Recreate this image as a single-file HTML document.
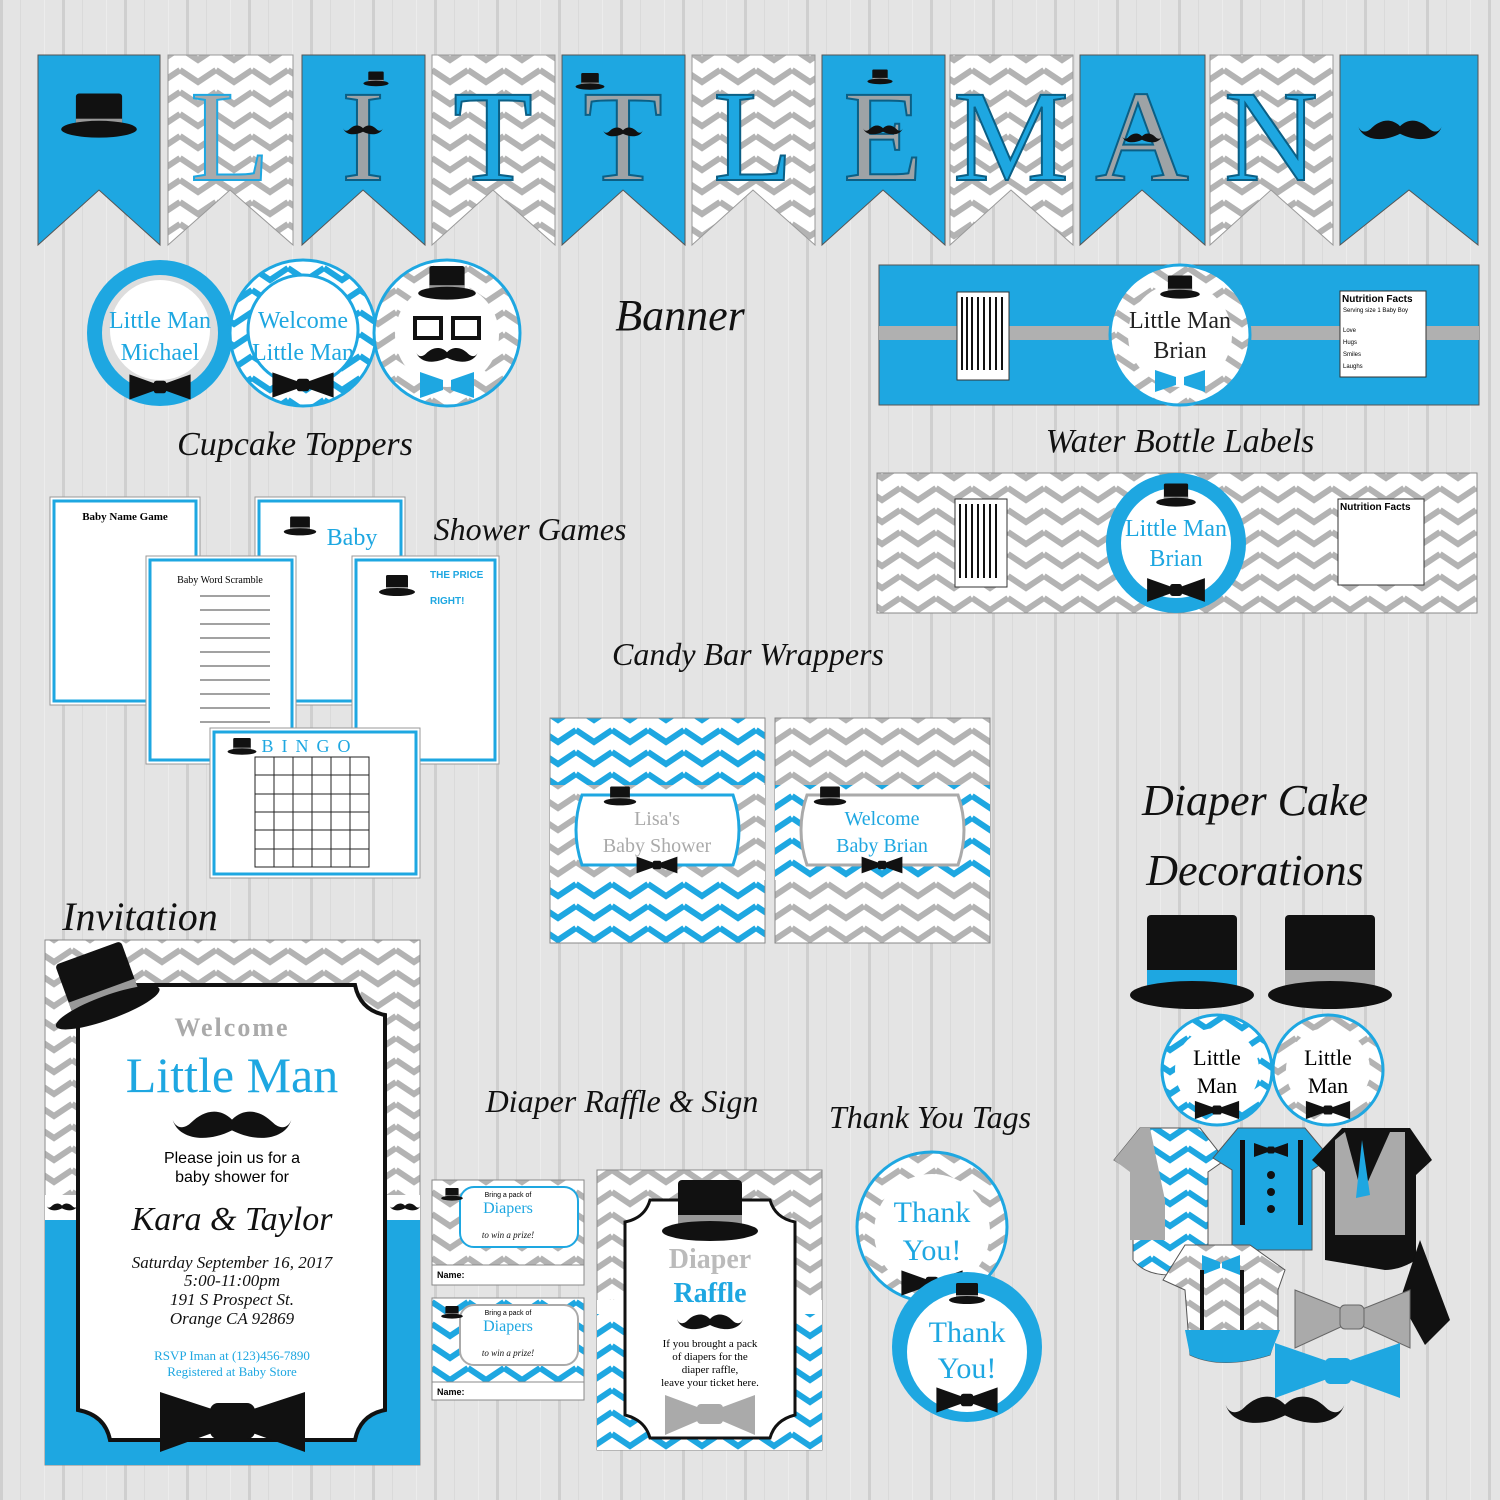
<!DOCTYPE html>
<html><head><meta charset="utf-8">
<style>
html,body{margin:0;padding:0;width:1500px;height:1500px;overflow:hidden;background:#e3e3e3}
svg{display:block}
.h{font-family:"Liberation Serif",serif;font-style:italic;fill:#111}
.s{font-family:"Liberation Serif",serif}
.a{font-family:"Liberation Sans",sans-serif}
</style></head><body>
<svg width="1500" height="1500" viewBox="0 0 1500 1500" xmlns="http://www.w3.org/2000/svg">
<defs>
<pattern id="wood" width="62" height="1500" patternUnits="userSpaceOnUse">
<rect width="62" height="1500" fill="#e4e4e4"/><rect x="0" width="3" height="1500" fill="#cfcfcf"/><rect x="20" width="1" height="1500" fill="#dadada"/><rect x="44" width="1" height="1500" fill="#ececec"/>
</pattern>
<pattern id="cg" width="36" height="22" patternUnits="userSpaceOnUse">
<rect width="36" height="22" fill="#fff"/><polyline points="0,4 18,16 36,4" fill="none" stroke="#b3b3b3" stroke-width="6"/>
</pattern>
<pattern id="cb" width="36" height="22" patternUnits="userSpaceOnUse">
<rect width="36" height="22" fill="#fff"/><polyline points="0,4 18,16 36,4" fill="none" stroke="#1ea7e1" stroke-width="6"/>
</pattern>
<g id="hat"><rect x="-22" y="-30" width="44" height="34" rx="3" fill="#111"/><rect x="-22" y="-6" width="44" height="8" fill="#999"/><ellipse cx="0" cy="4" rx="36" ry="8" fill="#111"/></g>
<g id="bow"><path d="M-34,-14 L-6,-4 L-6,4 L-34,14 Z M34,-14 L6,-4 L6,4 L34,14 Z" fill="#111"/><rect x="-7" y="-7" width="14" height="14" rx="3" fill="#111"/></g>
<g id="mus"><path d="M0,-4 C-10,-14 -22,-10 -30,-2 C-36,4 -42,2 -44,-4 C-40,10 -20,14 0,4 C20,14 40,10 44,-4 C42,2 36,4 30,-2 C22,-10 10,-14 0,-4 Z" fill="#111"/></g>
</defs>
<rect width="1500" height="1500" fill="url(#wood)"/>

<!-- Banner -->
<g>
<path d="M38,55 H160 V245 L99,190 L38,245 Z" fill="#1ea7e1" stroke="#555"/>
<path d="M168,55 H293 V245 L230,190 L168,245 Z" fill="url(#cg)" stroke="#999"/>
<path d="M302,55 H425 V245 L363,190 L302,245 Z" fill="#1ea7e1" stroke="#555"/>
<path d="M432,55 H555 V245 L493,190 L432,245 Z" fill="url(#cg)" stroke="#999"/>
<path d="M562,55 H685 V245 L623,190 L562,245 Z" fill="#1ea7e1" stroke="#555"/>
<path d="M692,55 H815 V245 L753,190 L692,245 Z" fill="url(#cg)" stroke="#999"/>
<path d="M822,55 H945 V245 L883,190 L822,245 Z" fill="#1ea7e1" stroke="#555"/>
<path d="M950,55 H1073 V245 L1011,190 L950,245 Z" fill="url(#cg)" stroke="#999"/>
<path d="M1080,55 H1205 V245 L1142,190 L1080,245 Z" fill="#1ea7e1" stroke="#555"/>
<path d="M1210,55 H1333 V245 L1271,190 L1210,245 Z" fill="url(#cg)" stroke="#999"/>
<path d="M1340,55 H1478 V245 L1409,190 L1340,245 Z" fill="#1ea7e1" stroke="#555"/>
<use href="#hat" transform="translate(99,125) scale(1.05)"/>
<use href="#mus" transform="translate(1400,130) scale(0.95)"/>
<g class="s" font-size="130" text-anchor="middle" stroke-width="2">
<text x="230" y="180" fill="#aaa" stroke="#1ea7e1">L</text>
<text x="363" y="180" fill="#9ea3a6" stroke="#0b5f85">I</text>
<text x="493" y="180" fill="#1ea7e1" stroke="#0b5f85">T</text>
<text x="623" y="180" fill="#9ea3a6" stroke="#0b5f85">T</text>
<text x="753" y="180" fill="#1ea7e1" stroke="#0b5f85">L</text>
<text x="883" y="180" fill="#9ea3a6" stroke="#0b5f85">E</text>
<text x="1011" y="180" fill="#1ea7e1" stroke="#0b5f85">M</text>
<text x="1142" y="180" fill="#9ea3a6" stroke="#0b5f85">A</text>
<text x="1271" y="180" fill="#1ea7e1" stroke="#0b5f85">N</text>
</g>
<use href="#mus" transform="translate(363,130) scale(0.45)"/>
<use href="#mus" transform="translate(623,132) scale(0.45)"/>
<use href="#mus" transform="translate(883,130) scale(0.45)"/>
<use href="#mus" transform="translate(1142,138) scale(0.45)"/>
<use href="#hat" transform="translate(376,82) scale(0.35)"/>
<use href="#hat" transform="translate(590,85) scale(0.4)"/>
<use href="#hat" transform="translate(880,80) scale(0.35)"/>
</g>

<!-- Cupcake toppers -->
<circle cx="160" cy="333" r="73" fill="#1ea7e1"/><circle cx="160" cy="333" r="58" fill="#ddd"/><circle cx="160" cy="330" r="50" fill="#fff"/>
<text x="160" y="328" class="s" font-size="24" fill="#1ea7e1" text-anchor="middle">Little Man</text>
<text x="160" y="360" class="s" font-size="24" fill="#1ea7e1" text-anchor="middle">Michael</text>
<use href="#bow" transform="translate(160,387) scale(0.9)"/>
<circle cx="303" cy="333" r="73" fill="url(#cb)" stroke="#1ea7e1" stroke-width="3"/><circle cx="303" cy="330" r="55" fill="#fff" stroke="#1ea7e1" stroke-width="3"/>
<text x="303" y="328" class="s" font-size="24" fill="#1ea7e1" text-anchor="middle">Welcome</text>
<text x="303" y="360" class="s" font-size="24" fill="#1ea7e1" text-anchor="middle">Little Man</text>
<use href="#bow" transform="translate(303,385) scale(0.9)"/>
<circle cx="447" cy="333" r="73" fill="url(#cg)" stroke="#1ea7e1" stroke-width="3"/><circle cx="447" cy="335" r="52" fill="#fff"/>
<use href="#hat" transform="translate(447,290) scale(0.8)"/>
<rect x="415" y="318" width="26" height="20" fill="none" stroke="#111" stroke-width="4"/><rect x="453" y="318" width="26" height="20" fill="none" stroke="#111" stroke-width="4"/>
<use href="#mus" transform="translate(447,355) scale(0.7)"/>
<path d="M420,372 L443,380 L443,390 L420,398 Z M474,372 L451,380 L451,390 L474,398 Z" fill="#1ea7e1"/>
<text x="295" y="455" class="h" font-size="34" text-anchor="middle">Cupcake Toppers</text>
<text x="680" y="330" class="h" font-size="44" text-anchor="middle">Banner</text>

<!-- Water bottle labels -->
<rect x="879" y="265" width="600" height="140" fill="#1ea7e1" stroke="#555"/>
<rect x="879" y="326" width="600" height="14" fill="#b0b0b0"/>
<rect x="957" y="292" width="52" height="88" fill="#fff" stroke="#333"/>
<g stroke="#111" stroke-width="2"><line x1="962" y1="297" x2="962" y2="370"/><line x1="967" y1="297" x2="967" y2="370"/><line x1="972" y1="297" x2="972" y2="370"/><line x1="978" y1="297" x2="978" y2="370"/><line x1="984" y1="297" x2="984" y2="370"/><line x1="990" y1="297" x2="990" y2="370"/><line x1="996" y1="297" x2="996" y2="370"/><line x1="1002" y1="297" x2="1002" y2="370"/></g>
<circle cx="1180" cy="335" r="70" fill="url(#cg)" stroke="#1ea7e1" stroke-width="3"/><circle cx="1180" cy="335" r="52" fill="#fff"/>
<use href="#hat" transform="translate(1180,292) scale(0.55)"/>
<text x="1180" y="328" class="s" font-size="24" fill="#222" text-anchor="middle">Little Man</text>
<text x="1180" y="358" class="s" font-size="24" fill="#222" text-anchor="middle">Brian</text>
<path d="M1155,370 L1176,377 L1176,385 L1155,392 Z M1205,370 L1184,377 L1184,385 L1205,392 Z" fill="#1ea7e1"/>
<rect x="1340" y="291" width="86" height="86" fill="#fff" stroke="#333"/>
<text x="1342" y="302" class="a" font-size="10" font-weight="bold">Nutrition Facts</text>
<g class="a" font-size="6"><text x="1343" y="312">Serving size   1 Baby Boy</text><text x="1343" y="332">Love</text><text x="1343" y="344">Hugs</text><text x="1343" y="356">Smiles</text><text x="1343" y="368">Laughs</text></g>

<text x="1180" y="452" class="h" font-size="34" text-anchor="middle">Water Bottle Labels</text>
<rect x="877" y="473" width="600" height="140" fill="url(#cg)" stroke="#888"/>
<rect x="955" y="499" width="52" height="88" fill="#fff" stroke="#333"/>
<g stroke="#111" stroke-width="2"><line x1="960" y1="504" x2="960" y2="578"/><line x1="966" y1="504" x2="966" y2="578"/><line x1="972" y1="504" x2="972" y2="578"/><line x1="978" y1="504" x2="978" y2="578"/><line x1="984" y1="504" x2="984" y2="578"/><line x1="990" y1="504" x2="990" y2="578"/><line x1="996" y1="504" x2="996" y2="578"/></g>
<circle cx="1176" cy="543" r="70" fill="#1ea7e1"/><circle cx="1176" cy="543" r="55" fill="#fff"/>
<use href="#hat" transform="translate(1176,500) scale(0.55)"/>
<text x="1176" y="536" class="s" font-size="24" fill="#1ea7e1" text-anchor="middle">Little Man</text>
<text x="1176" y="566" class="s" font-size="24" fill="#1ea7e1" text-anchor="middle">Brian</text>
<use href="#bow" transform="translate(1176,590) scale(0.85)"/>
<rect x="1338" y="499" width="86" height="86" fill="#fff" stroke="#333"/>
<text x="1340" y="510" class="a" font-size="10" font-weight="bold">Nutrition Facts</text>

<!-- Shower games -->
<text x="530" y="540" class="h" font-size="32" text-anchor="middle">Shower Games</text>
<rect x="50" y="497" width="150" height="208" fill="#fff" stroke="#999"/><rect x="54" y="501" width="142" height="200" fill="none" stroke="#1ea7e1" stroke-width="3"/>
<text x="125" y="520" class="s" font-size="11" text-anchor="middle" font-weight="bold">Baby Name Game</text>
<rect x="255" y="497" width="150" height="208" fill="#fff" stroke="#999"/><rect x="259" y="501" width="142" height="200" fill="none" stroke="#1ea7e1" stroke-width="3"/>
<use href="#hat" transform="translate(300,530) scale(0.45)"/>
<text x="352" y="545" class="s" font-size="24" fill="#1ea7e1" text-anchor="middle">Baby</text>
<rect x="146" y="556" width="150" height="208" fill="#fff" stroke="#999"/><rect x="150" y="560" width="142" height="200" fill="none" stroke="#1ea7e1" stroke-width="3"/>
<text x="220" y="583" class="s" font-size="10" text-anchor="middle">Baby Word Scramble</text>
<g stroke="#444" stroke-width="1">
<line x1="200" y1="596" x2="270" y2="596"/><line x1="200" y1="610" x2="270" y2="610"/><line x1="200" y1="624" x2="270" y2="624"/><line x1="200" y1="638" x2="270" y2="638"/><line x1="200" y1="652" x2="270" y2="652"/><line x1="200" y1="666" x2="270" y2="666"/><line x1="200" y1="680" x2="270" y2="680"/><line x1="200" y1="694" x2="270" y2="694"/><line x1="200" y1="708" x2="270" y2="708"/><line x1="200" y1="722" x2="270" y2="722"/></g>
<rect x="352" y="556" width="147" height="208" fill="#fff" stroke="#999"/><rect x="356" y="560" width="139" height="200" fill="none" stroke="#1ea7e1" stroke-width="3"/>
<use href="#hat" transform="translate(397,590) scale(0.5)"/>
<text x="430" y="578" class="a" font-size="10" fill="#1ea7e1" font-weight="bold">THE PRICE</text>
<text x="430" y="604" class="a" font-size="10" fill="#1ea7e1" font-weight="bold">RIGHT!</text>
<rect x="210" y="728" width="210" height="150" fill="#fff" stroke="#999"/><rect x="214" y="732" width="202" height="142" fill="none" stroke="#1ea7e1" stroke-width="3"/>
<text x="310" y="752" class="s" font-size="18" fill="#1ea7e1" letter-spacing="8" text-anchor="middle">BINGO</text>
<use href="#hat" transform="translate(242,750) scale(0.4)"/>
<g fill="none" stroke="#222"><rect x="255" y="757" width="114" height="110"/><path d="M274,757V867M293,757V867M312,757V867M331,757V867M350,757V867M255,775H369M255,794H369M255,812H369M255,830H369M255,849H369"/></g>

<!-- Candy bars -->
<text x="748" y="665" class="h" font-size="32" text-anchor="middle">Candy Bar Wrappers</text>
<rect x="550" y="718" width="215" height="225" fill="url(#cb)" stroke="#888"/>
<rect x="550" y="785" width="215" height="95" fill="url(#cg)"/>
<path d="M582,795 H733 Q745,830 733,865 H582 Q570,830 582,795 Z" fill="#fff" stroke="#1ea7e1" stroke-width="3"/>
<use href="#hat" transform="translate(620,800) scale(0.45)"/>
<text x="657" y="825" class="s" font-size="20" fill="#aaa" text-anchor="middle">Lisa's</text>
<text x="657" y="852" class="s" font-size="20" fill="#aaa" text-anchor="middle">Baby Shower</text>
<use href="#bow" transform="translate(657,865) scale(0.6)"/>
<rect x="775" y="718" width="215" height="225" fill="url(#cg)" stroke="#888"/>
<rect x="775" y="785" width="215" height="95" fill="url(#cb)"/>
<path d="M807,795 H958 Q970,830 958,865 H807 Q795,830 807,795 Z" fill="#fff" stroke="#aaa" stroke-width="3"/>
<use href="#hat" transform="translate(830,800) scale(0.45)"/>
<text x="882" y="825" class="s" font-size="20" fill="#1ea7e1" text-anchor="middle">Welcome</text>
<text x="882" y="852" class="s" font-size="20" fill="#1ea7e1" text-anchor="middle">Baby Brian</text>
<use href="#bow" transform="translate(882,865) scale(0.6)"/>

<!-- Invitation -->
<text x="140" y="930" class="h" font-size="40" text-anchor="middle">Invitation</text>
<rect x="45" y="940" width="375" height="525" fill="url(#cg)" stroke="#888"/>
<rect x="45" y="1220" width="375" height="245" fill="#1ea7e1"/>
<rect x="45" y="1195" width="375" height="25" fill="#fff"/>
<use href="#mus" transform="translate(62,1207) scale(0.35)"/><use href="#mus" transform="translate(405,1207) scale(0.35)"/>
<path d="M110,985 H355 Q360,1010 385,1015 V1410 Q360,1415 355,1440 H110 Q105,1415 78,1410 V1015 Q105,1010 110,985 Z" fill="#fff" stroke="#111" stroke-width="4"/>
<g transform="translate(105,1000) rotate(-20)"><rect x="-35" y="-50" width="70" height="60" rx="4" fill="#111"/><rect x="-35" y="-10" width="70" height="14" fill="#999"/><ellipse cx="0" cy="8" rx="55" ry="12" fill="#111"/></g>
<text x="232" y="1036" class="s" font-size="26" fill="#aaa" font-weight="bold" text-anchor="middle" letter-spacing="2">Welcome</text>
<text x="232" y="1092" class="s" font-size="50" fill="#1ea7e1" text-anchor="middle">Little Man</text>
<use href="#mus" transform="translate(232,1125) scale(1.35)"/>
<text x="232" y="1163" class="a" font-size="16" text-anchor="middle">Please join us for a</text>
<text x="232" y="1182" class="a" font-size="16" text-anchor="middle">baby shower for</text>
<text x="232" y="1230" class="h" font-size="34" fill="#1ea7e1" text-anchor="middle">Kara &amp; Taylor</text>
<g class="h" font-size="17" text-anchor="middle"><text x="232" y="1268">Saturday September 16, 2017</text><text x="232" y="1286">5:00-11:00pm</text><text x="232" y="1305">191 S Prospect St.</text><text x="232" y="1324">Orange CA 92869</text></g>
<text x="232" y="1360" class="s" font-size="13" fill="#1ea7e1" text-anchor="middle">RSVP Iman at (123)456-7890</text>
<text x="232" y="1376" class="s" font-size="13" fill="#1ea7e1" text-anchor="middle">Registered at Baby Store</text>
<path d="M160,1392 L215,1410 L215,1432 L160,1452 Z M305,1392 L250,1410 L250,1432 L305,1452 Z" fill="#111"/><rect x="210" y="1403" width="45" height="36" rx="8" fill="#111"/>

<!-- Diaper raffle -->
<text x="622" y="1112" class="h" font-size="32" text-anchor="middle">Diaper Raffle &amp; Sign</text>
<g>
<rect x="432" y="1180" width="152" height="105" fill="url(#cg)" stroke="#888"/><rect x="432" y="1265" width="152" height="20" fill="#fff" stroke="#888"/>
<rect x="460" y="1187" width="118" height="60" rx="14" fill="#fff" stroke="#1ea7e1" stroke-width="2"/>
<use href="#hat" transform="translate(452,1197) scale(0.3)"/>
<text x="508" y="1197" class="a" font-size="7" text-anchor="middle">Bring a pack of</text>
<text x="508" y="1213" class="s" font-size="16" fill="#1ea7e1" text-anchor="middle">Diapers</text>
<text x="508" y="1238" class="h" font-size="9" text-anchor="middle">to win a prize!</text>
<text x="437" y="1278" class="a" font-size="9" font-weight="bold">Name:</text>
<rect x="432" y="1298" width="152" height="102" fill="url(#cb)" stroke="#888"/><rect x="432" y="1382" width="152" height="18" fill="#fff" stroke="#888"/>
<rect x="460" y="1305" width="118" height="60" rx="14" fill="#fff" stroke="#aaa" stroke-width="2"/>
<use href="#hat" transform="translate(452,1315) scale(0.3)"/>
<text x="508" y="1315" class="a" font-size="7" text-anchor="middle">Bring a pack of</text>
<text x="508" y="1331" class="s" font-size="16" fill="#1ea7e1" text-anchor="middle">Diapers</text>
<text x="508" y="1356" class="h" font-size="9" text-anchor="middle">to win a prize!</text>
<text x="437" y="1395" class="a" font-size="9" font-weight="bold">Name:</text>
</g>
<rect x="597" y="1170" width="225" height="280" fill="url(#cg)" stroke="#888"/>
<rect x="597" y="1310" width="225" height="140" fill="url(#cb)"/>
<rect x="597" y="1300" width="225" height="14" fill="#fff"/>
<path d="M650,1200 H770 Q775,1218 795,1222 V1415 Q775,1420 770,1438 H650 Q645,1420 625,1415 V1222 Q645,1218 650,1200 Z" fill="#fff" stroke="#111" stroke-width="3"/>
<g transform="translate(710,1225)"><rect x="-32" y="-45" width="64" height="52" rx="4" fill="#111"/><rect x="-32" y="-10" width="64" height="12" fill="#999"/><ellipse cx="0" cy="6" rx="48" ry="10" fill="#111"/></g>
<text x="710" y="1268" class="s" font-size="28" fill="#bbb" font-weight="bold" text-anchor="middle">Diaper</text>
<text x="710" y="1302" class="s" font-size="28" fill="#1ea7e1" font-weight="bold" text-anchor="middle">Raffle</text>
<use href="#mus" transform="translate(710,1322) scale(0.75)"/>
<g class="s" font-size="11" text-anchor="middle"><text x="710" y="1347">If you brought a pack</text><text x="710" y="1360">of diapers for the</text><text x="710" y="1373">diaper raffle,</text><text x="710" y="1386">leave your ticket here.</text></g>
<path d="M665,1395 L700,1408 L700,1420 L665,1435 Z M755,1395 L720,1408 L720,1420 L755,1435 Z" fill="#aaa"/><rect x="697" y="1404" width="26" height="20" rx="4" fill="#aaa"/>

<!-- Thank you tags -->
<text x="930" y="1128" class="h" font-size="32" text-anchor="middle">Thank You Tags</text>
<circle cx="932" cy="1227" r="75" fill="url(#cg)" stroke="#1ea7e1" stroke-width="3"/><circle cx="932" cy="1232" r="58" fill="#fff"/>
<text x="932" y="1222" class="s" font-size="30" fill="#1ea7e1" text-anchor="middle">Thank</text>
<text x="932" y="1260" class="s" font-size="30" fill="#1ea7e1" text-anchor="middle">You!</text>
<use href="#bow" transform="translate(932,1283) scale(0.9)"/>
<circle cx="967" cy="1347" r="75" fill="#1ea7e1"/><circle cx="967" cy="1352" r="60" fill="#fff"/>
<use href="#hat" transform="translate(967,1298) scale(0.5)"/>
<text x="967" y="1342" class="s" font-size="30" fill="#1ea7e1" text-anchor="middle">Thank</text>
<text x="967" y="1378" class="s" font-size="30" fill="#1ea7e1" text-anchor="middle">You!</text>
<use href="#bow" transform="translate(967,1400) scale(0.9)"/>

<!-- Diaper cake -->
<text x="1255" y="815" class="h" font-size="44" text-anchor="middle">Diaper Cake</text>
<text x="1255" y="885" class="h" font-size="44" text-anchor="middle">Decorations</text>
<g transform="translate(1192,985)"><rect x="-45" y="-70" width="90" height="80" rx="4" fill="#111"/><rect x="-45" y="-15" width="90" height="18" fill="#1ea7e1"/><ellipse cx="0" cy="10" rx="62" ry="14" fill="#111"/></g>
<g transform="translate(1330,985)"><rect x="-45" y="-70" width="90" height="80" rx="4" fill="#111"/><rect x="-45" y="-15" width="90" height="18" fill="#aaa"/><ellipse cx="0" cy="10" rx="62" ry="14" fill="#111"/></g>
<circle cx="1217" cy="1070" r="55" fill="url(#cb)" stroke="#1ea7e1" stroke-width="3"/><circle cx="1217" cy="1070" r="42" fill="#fff"/>
<text x="1217" y="1065" class="s" font-size="22" text-anchor="middle">Little</text><text x="1217" y="1093" class="s" font-size="22" text-anchor="middle">Man</text>
<use href="#bow" transform="translate(1217,1110) scale(0.65)"/>
<circle cx="1328" cy="1070" r="55" fill="url(#cg)" stroke="#1ea7e1" stroke-width="3"/><circle cx="1328" cy="1070" r="42" fill="#fff"/>
<text x="1328" y="1065" class="s" font-size="22" text-anchor="middle">Little</text><text x="1328" y="1093" class="s" font-size="22" text-anchor="middle">Man</text>
<use href="#bow" transform="translate(1328,1110) scale(0.65)"/>
<!-- onesies -->
<path d="M1140,1128 H1200 L1225,1160 L1208,1172 V1260 Q1195,1275 1170,1275 Q1145,1275 1133,1260 V1172 L1114,1160 Z" fill="url(#cb)" stroke="#555"/>
<path d="M1150,1128 L1165,1200 V1240 H1130 V1172 L1114,1160 L1140,1128 Z" fill="#aaa"/>
<path d="M1238,1128 H1305 L1330,1158 L1312,1170 V1250 H1232 V1170 L1213,1158 Z" fill="#1ea7e1" stroke="#555"/>
<use href="#bow" transform="translate(1271,1150) scale(0.5)"/>
<rect x="1240" y="1140" width="5" height="85" fill="#111"/><rect x="1298" y="1140" width="5" height="85" fill="#111"/>
<circle cx="1271" cy="1175" r="4" fill="#111"/><circle cx="1271" cy="1192" r="4" fill="#111"/><circle cx="1271" cy="1209" r="4" fill="#111"/>
<path d="M1342,1128 H1410 L1432,1160 L1416,1175 V1260 Q1400,1270 1385,1270 L1325,1260 V1172 L1312,1160 Z" fill="#111"/>
<path d="M1345,1132 L1362,1195 L1390,1132 H1405 V1235 H1335 V1140 Z" fill="#aaa"/>
<path d="M1362,1140 L1370,1195 L1356,1198 Z" fill="#1ea7e1"/>
<path d="M1185,1245 H1250 L1285,1270 L1278,1290 V1330 L1270,1355 Q1222,1370 1190,1355 L1185,1290 L1163,1280 Z" fill="url(#cg)" stroke="#555"/>
<path d="M1185,1330 H1280 L1270,1355 Q1222,1370 1190,1355 Z" fill="#1ea7e1"/>
<path d="M1202,1255 L1220,1262 L1220,1268 L1202,1275 Z M1240,1255 L1222,1262 L1222,1268 L1240,1275 Z" fill="#1ea7e1"/>
<rect x="1200" y="1270" width="4" height="60" fill="#111"/><rect x="1240" y="1270" width="4" height="60" fill="#111"/>
<path d="M1420,1240 L1450,1320 L1425,1345 L1400,1300 Z" fill="#111"/>
<path d="M1295,1290 L1345,1310 L1345,1325 L1295,1348 Z M1410,1290 L1360,1310 L1360,1325 L1410,1348 Z" fill="#aaa" stroke="#666"/><rect x="1340" y="1305" width="24" height="24" rx="5" fill="#aaa" stroke="#666"/>
<path d="M1275,1343 L1330,1362 L1330,1378 L1275,1398 Z M1400,1343 L1345,1362 L1345,1378 L1400,1398 Z" fill="#1ea7e1"/><rect x="1325" y="1358" width="26" height="26" rx="5" fill="#1ea7e1"/>
<use href="#mus" transform="translate(1285,1410) scale(1.35)"/>
</svg>
</body></html>
